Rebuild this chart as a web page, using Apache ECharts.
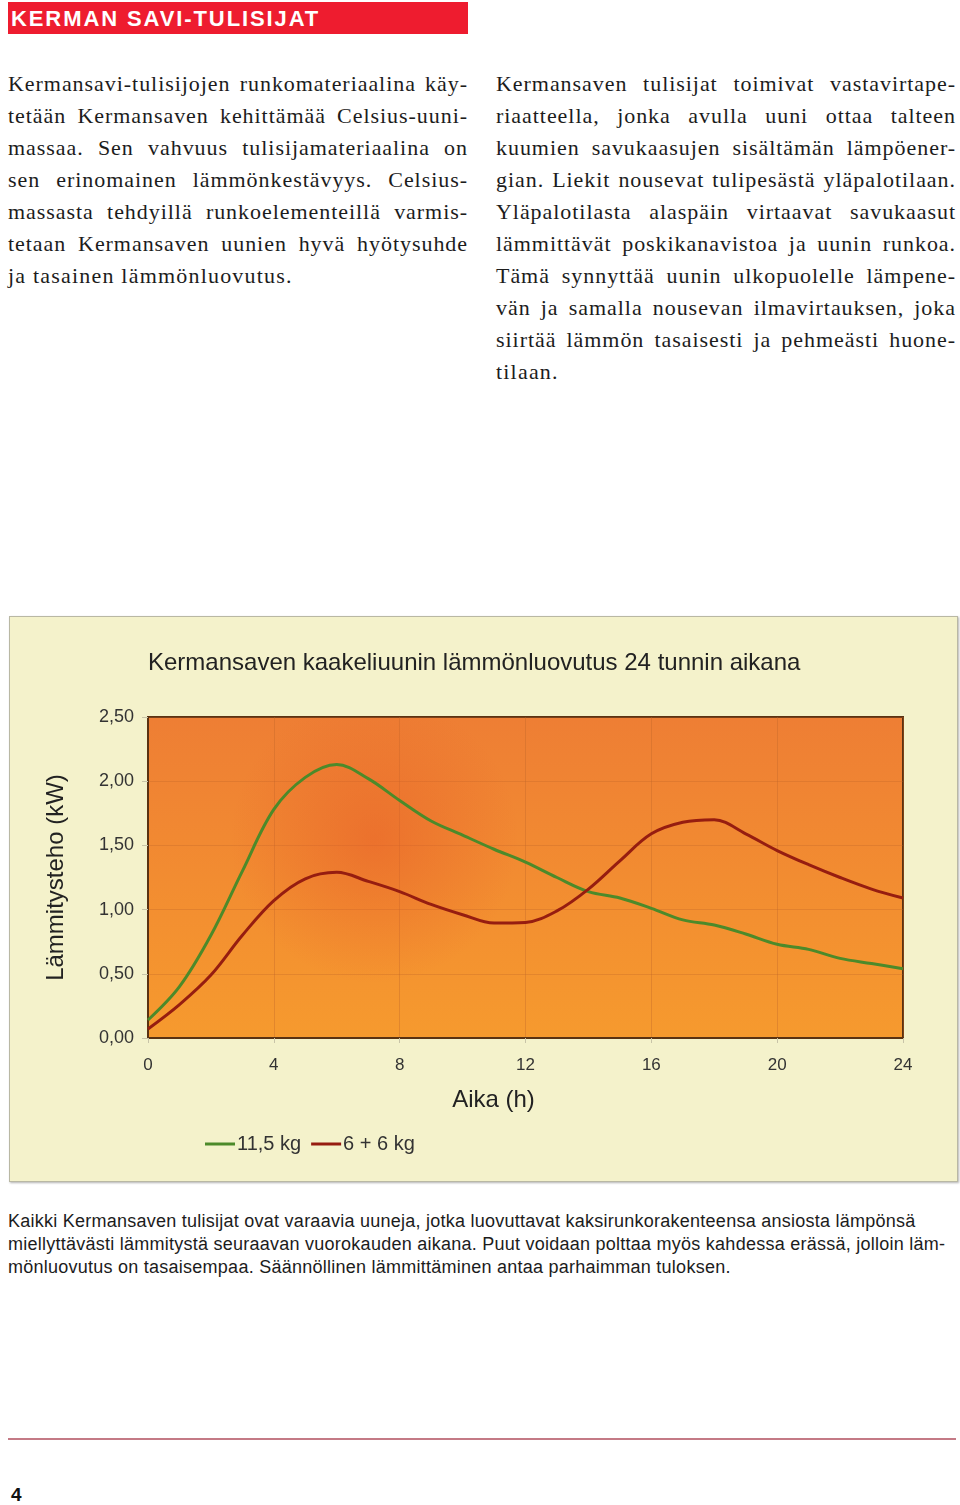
<!DOCTYPE html>
<html>
<head>
<meta charset="utf-8">
<script src="https://cdn.jsdelivr.net/npm/echarts@6/dist/echarts.min.js"></script>
<style>
  html, body { margin:0; padding:0; background:#fff; }
  body { width:960px; height:1505px; position:relative; overflow:hidden; }
  .hdr { position:absolute; left:8px; top:2px; width:460px; height:32px; background:#EE1C2F;
         color:#fff; font:bold 22px "Liberation Sans", Arial, sans-serif; line-height:33px;
         padding-left:3px; box-sizing:border-box; letter-spacing:1.9px; }
  .col { position:absolute; top:68px; width:460px; font-family:"Liberation Serif", "Times New Roman", serif;
         font-size:22px; letter-spacing:0.95px; color:#1c1c1c; }
  .col div { height:32px; line-height:32px; text-align:justify; text-align-last:justify; white-space:nowrap; }
  .col div.last { text-align-last:left; letter-spacing:1.2px; }
  .foot { position:absolute; left:8px; top:1210px; font-family:"Liberation Sans", Arial, sans-serif;
          font-size:18px; letter-spacing:0.25px; color:#1c1c1c; }
  .foot div { height:23px; line-height:23px; white-space:nowrap; }
  .rule { position:absolute; left:8px; top:1438px; width:948px; height:2px; background:#C47A86; }
  .pg { position:absolute; left:11px; top:1484px; font:bold 19px "Liberation Sans", Arial, sans-serif; color:#111; }
  #chart { position:absolute; left:9px; top:616px; width:947px; height:564px; background:#F4F2CB;
           border:1px solid #b9b8a4; box-shadow:1px 1px 2px rgba(0,0,0,0.3); }
</style>
</head>
<body>
<div class="hdr">KERMAN SAVI-TULISIJAT</div>

<div class="col" style="left:8px;">
  <div>Kermansavi-tulisijojen runkomateriaalina käy-</div>
  <div>tetään Kermansaven kehittämää Celsius-uuni-</div>
  <div>massaa. Sen vahvuus tulisijamateriaalina on</div>
  <div>sen erinomainen lämmönkestävyys. Celsius-</div>
  <div>massasta tehdyillä runkoelementeillä varmis-</div>
  <div>tetaan Kermansaven uunien hyvä hyötysuhde</div>
  <div class="last">ja tasainen lämmönluovutus.</div>
</div>

<div class="col" style="left:496px;">
  <div>Kermansaven tulisijat toimivat vastavirtape-</div>
  <div>riaatteella, jonka avulla uuni ottaa talteen</div>
  <div>kuumien savukaasujen sisältämän lämpöener-</div>
  <div>gian. Liekit nousevat tulipesästä yläpalotilaan.</div>
  <div>Yläpalotilasta alaspäin virtaavat savukaasut</div>
  <div>lämmittävät poskikanavistoa ja uunin runkoa.</div>
  <div>Tämä synnyttää uunin ulkopuolelle lämpene-</div>
  <div>vän ja samalla nousevan ilmavirtauksen, joka</div>
  <div>siirtää lämmön tasaisesti ja pehmeästi huone-</div>
  <div class="last">tilaan.</div>
</div>

<div id="chart"></div>

<div class="foot">
  <div>Kaikki Kermansaven tulisijat ovat varaavia uuneja, jotka luovuttavat kaksirunkorakenteensa ansiosta lämpönsä</div>
  <div>miellyttävästi lämmitystä seuraavan vuorokauden aikana. Puut voidaan polttaa myös kahdessa erässä, jolloin läm-</div>
  <div>mönluovutus on tasaisempaa. Säännöllinen lämmittäminen antaa parhaimman tuloksen.</div>
</div>
<div class="rule"></div>
<div class="pg">4</div>

<script>
// Data
var hours = [0,1,2,3,4,5,6,7,8,9,10,11,12,13,14,15,16,17,18,19,20,21,22,23,24];
var load115 = [0.14,0.40,0.80,1.30,1.78,2.03,2.13,2.02,1.85,1.69,1.58,1.47,1.37,1.25,1.14,1.09,1.01,0.92,0.88,0.81,0.73,0.69,0.62,0.58,0.54];
var load66  = [0.07,0.26,0.49,0.80,1.07,1.24,1.29,1.22,1.14,1.04,0.96,0.895,0.90,0.99,1.16,1.38,1.59,1.68,1.70,1.59,1.46,1.35,1.25,1.16,1.09];
var seriesNames = ['11,5 kg', '6 + 6 kg'];
var chartTitle = 'Kermansaven kaakeliuunin lämmönluovutus 24 tunnin aikana';
var xName = 'Aika (h)';
var yName = 'Lämmitysteho (kW)';

function pairs(vals) { return hours.map(function (h, i) { return [h, vals[i]]; }); }

var FONT = '"Liberation Sans", Arial, sans-serif';
var chart = echarts.init(document.getElementById('chart'), null, { renderer: 'canvas' });
chart.setOption({
  animation: false,
  textStyle: { fontFamily: FONT },
  title: {
    text: chartTitle, left: 138, top: 34, padding: 0,
    textStyle: { fontSize: 24, fontWeight: 'normal', color: '#222', fontFamily: FONT }
  },
  legend: {
    left: 190, top: 512, itemWidth: 30, itemHeight: 3, itemGap: 10, icon: 'rect',
    textStyle: { fontSize: 20, color: '#333', fontFamily: FONT, padding: [0,0,0,-3] },
    data: seriesNames
  },
  grid: {
    left: 138, top: 100, width: 755, height: 321, show: true,
    borderColor: '#5a3212', borderWidth: 2,
    backgroundColor: new echarts.graphic.LinearGradient(0, 0, 0, 1, [
      { offset: 0, color: '#EE7E34' }, { offset: 1, color: '#F69A2E' }
    ])
  },
  xAxis: {
    type: 'value', min: 0, max: 24, interval: 4,
    name: xName, nameLocation: 'middle', nameGap: 50,
    nameTextStyle: { fontSize: 24, color: '#222', fontFamily: FONT, padding: [0, 64, 0, 0] },
    axisLine: { show: true, lineStyle: { color: '#5a3212', width: 2 } },
    axisTick: { show: true, length: 5, lineStyle: { color: '#c8c4a8' } },
    axisLabel: { fontSize: 17, color: '#333', margin: 19, fontFamily: FONT },
    splitLine: { show: true, lineStyle: { color: 'rgba(190,100,40,0.35)', width: 1 } }
  },
  yAxis: {
    type: 'value', min: 0, max: 2.5, interval: 0.5,
    name: yName, nameLocation: 'middle', nameGap: 80, nameRotate: 90,
    nameTextStyle: { fontSize: 24, color: '#222', fontFamily: FONT },
    axisLine: { show: true, lineStyle: { color: '#5a3212', width: 2 } },
    axisTick: { show: true, length: 6, lineStyle: { color: '#c8c4a8' } },
    axisLabel: { fontSize: 18, color: '#333', margin: 14, fontFamily: FONT,
      formatter: function (v) { return v.toFixed(2).replace('.', ','); } },
    splitLine: { show: true, lineStyle: { color: 'rgba(190,100,40,0.3)', width: 1 } }
  },
  series: [
    {
      name: seriesNames[0], type: 'line', data: pairs(load115), smooth: 0.35,
      showSymbol: false, symbol: 'none', z: 3,
      lineStyle: { color: '#4C8A2A', width: 3 }, itemStyle: { color: '#4C8A2A' },
      markArea: {
        silent: true, z: 1,
        itemStyle: {
          color: new echarts.graphic.RadialGradient(0.3, 0.38, 0.45, [
            { offset: 0, color: 'rgba(230,90,40,0.5)' }, { offset: 1, color: 'rgba(230,90,40,0)' }
          ])
        },
        data: [[{ coord: [0, 0] }, { coord: [24, 2.5] }]]
      }
    },
    {
      name: seriesNames[1], type: 'line', data: pairs(load66), smooth: 0.35,
      showSymbol: false, symbol: 'none', z: 3,
      lineStyle: { color: '#961D10', width: 3 }, itemStyle: { color: '#961D10' }
    }
  ]
});
</script>
</body>
</html>
